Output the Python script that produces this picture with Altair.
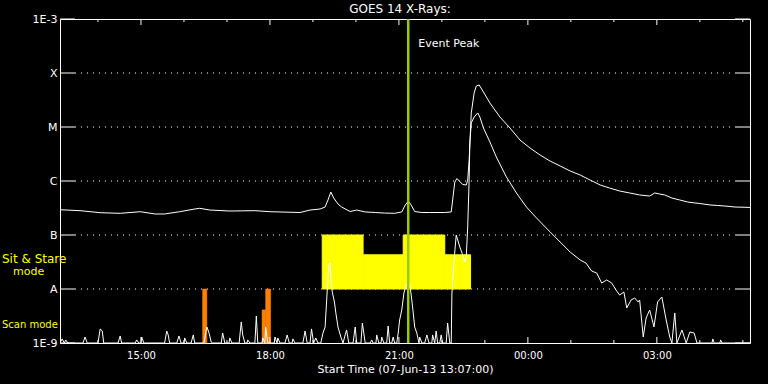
import json
import altair as alt
import pandas as pd

# ---------------- data ----------------
START = "13:07"
END = "05:10"
X_TITLE = "Start Time (07-Jun-13 13:07:00)"
TITLE = "GOES 14 X-Rays:"

# long channel (1-8 A), W/m^2
LONG = [("13:07",2.94e-7),("13:35",2.82e-7),("14:03",2.59e-7),("14:31",2.52e-7),("14:59",2.70e-7),
        ("15:20",2.45e-7),("15:33",2.45e-7),("15:54",2.70e-7),("16:15",3.03e-7),("16:22",3.12e-7),
        ("16:36",2.90e-7),("17:04",2.78e-7),("17:39",2.82e-7),("18:00",2.70e-7),("18:42",2.61e-7),
        ("18:56",2.90e-7),("19:10",3.03e-7),("19:17",3.30e-7),("19:21",4.45e-7),("19:25",6.25e-7),
        ("19:29",4.84e-7),("19:35",3.75e-7),("19:40",3.30e-7),("19:52",2.72e-7),("20:01",2.90e-7),
        ("20:13",2.67e-7),("20:27",2.61e-7),("20:40",2.55e-7),("20:54",2.52e-7),("21:04",2.67e-7),
        ("21:08",3.44e-7),("21:13",4.27e-7),("21:17",3.60e-7),("21:22",2.72e-7),("21:32",2.61e-7),
        ("21:43",2.61e-7),("22:04",2.61e-7),("22:13",2.67e-7),("22:15",4.45e-7),("22:18",9.57e-7),
        ("22:21",1.11e-6),("22:25",9.80e-7),("22:29",8.61e-7),("22:34",8.43e-7),("22:36",1.04e-6),
        ("22:38",2.45e-6),("22:41",1.82e-5),("22:45",4.27e-5),("22:48",5.74e-5),("22:52",6.00e-5),
        ("22:58",4.45e-5),("23:07",2.78e-5),("23:21",1.53e-5),("23:35",9.57e-6),("23:49",5.74e-6),
        ("00:03",4.08e-6),("00:17",3.03e-6),("00:31",2.34e-6),("00:45",1.90e-6),("00:59",1.53e-6),
        ("01:13",1.29e-6),("01:27",1.04e-6),("01:41",8.43e-7),("01:54",7.41e-7),("02:08",6.53e-7),
        ("02:22",6.00e-7),("02:36",5.51e-7),("02:50",5.27e-7),("02:57",6.00e-7),("03:04",5.74e-7),
        ("03:11",5.51e-7),("03:21",4.84e-7),("03:32",4.45e-7),("03:43",4.08e-7),("03:53",3.92e-7),
        ("04:00",3.83e-7),("04:14",3.60e-7),("04:25",3.52e-7),("04:35",3.44e-7),("04:49",3.30e-7),
        ("05:03",3.26e-7),("05:10",3.24e-7)]

# short channel (0.5-4 A), W/m^2
SHORT = [("13:07",1e-9),("13:10",1.19e-9),("13:13",1e-9),("13:15",1.14e-9),("13:18",1e-9),
         ("13:39",1e-9),("13:42",1.29e-9),("13:45",1e-9),("14:00",1e-9),("14:03",1.82e-9),
         ("14:06",1.67e-9),("14:08",1e-9),("14:28",1e-9),("14:31",1.35e-9),("14:33",1e-9),
         ("14:52",1e-9),("14:54",1.14e-9),("14:57",1e-9),("15:00",1e-9),("15:01",1.29e-9),
         ("15:04",1e-9),("15:33",1e-9),("15:36",1.67e-9),("15:38",1.41e-9),("15:40",1e-9),
         ("15:50",1e-9),("15:53",1.35e-9),("15:56",1e-9),("16:00",1e-9),("16:01",1.24e-9),
         ("16:04",1e-9),("16:10",1e-9),("16:13",1.41e-9),("16:15",1e-9),("16:28",1e-9),
         ("16:31",1.74e-9),("16:32",1.98e-9),("16:35",1.53e-9),("16:38",1.04e-9),("16:40",1e-9),
         ("16:52",1e-9),("16:54",1.53e-9),("16:57",1e-9),("17:03",1e-9),("17:04",1.24e-9),
         ("17:07",1e-9),("17:17",1e-9),("17:20",2.45e-9),("17:22",1.41e-9),("17:25",1e-9),
         ("17:28",1e-9),("17:29",1.14e-9),("17:32",1e-9),("17:39",1e-9),("17:41",3.16e-9),
         ("17:43",1e-9),("17:49",1e-9),("17:50",1.24e-9),("17:53",1e-9),("17:54",1.98e-9),
         ("17:57",1e-9),("18:06",1e-9),("18:07",1.29e-9),("18:10",1e-9),("18:11",1.24e-9),
         ("18:14",1e-9),("18:21",1e-9),("18:24",1.41e-9),("18:27",1e-9),("18:31",1e-9),
         ("18:32",1.19e-9),("18:35",1e-9),("18:46",1e-9),("18:49",1.67e-9),("18:52",1e-9),
         ("18:56",1e-9),("18:58",1.82e-9),("19:01",1e-9),("19:04",1.24e-9),("19:07",1e-9),
         ("19:11",1e-9),("19:14",1.53e-9),("19:17",1.98e-9),("19:20",9.57e-9),("19:22",2.78e-8),
         ("19:24",3.03e-8),("19:25",1.67e-8),("19:27",8.79e-9),("19:30",5.74e-9),("19:32",3.60e-9),
         ("19:35",1.98e-9),("19:39",1.29e-9),("19:42",1e-9),("19:45",1.41e-9),("19:47",1.74e-9),
         ("19:50",1e-9),("19:56",1e-9),("19:59",1.98e-9),("20:01",1e-9),("20:07",1e-9),
         ("20:09",2.34e-9),("20:13",1e-9),("20:20",1e-9),("20:22",1.14e-9),("20:24",1e-9),
         ("20:28",1e-9),("20:29",1.41e-9),("20:32",1e-9),("20:35",1e-9),("20:36",1.29e-9),
         ("20:39",1e-9),("20:43",1e-9),("20:45",2.07e-9),("20:47",1e-9),("20:50",1e-9),
         ("20:52",1.29e-9),("20:54",1e-9),("20:57",1e-9),("20:59",1.53e-9),("21:01",2.67e-9),
         ("21:04",4.08e-9),("21:07",8.43e-9),("21:10",1.19e-8),("21:12",1.29e-8),("21:15",1.29e-8),
         ("21:18",6.25e-9),("21:20",3.60e-9),("21:22",1.98e-9),("21:25",1.53e-9),("21:28",1e-9),
         ("21:29",1.29e-9),("21:32",1e-9),("21:36",1e-9),("21:39",1.41e-9),("21:42",1e-9),
         ("21:46",1e-9),("21:47",1.41e-9),("21:50",1e-9),("21:52",1.67e-9),("21:54",1e-9),
         ("21:57",1e-9),("21:59",1.41e-9),("22:01",1e-9),("22:06",1e-9),("22:08",2.34e-9),
         ("22:11",1e-9),("22:13",1e-9),("22:14",8.43e-9),("22:17",3.44e-8),("22:20",1.00e-7),
         ("22:25",6.00e-8),("22:29",4.27e-8),("22:32",3.16e-8),("22:34",3.92e-8),("22:36",1.41e-7),
         ("22:38",1.04e-6),("22:39",5.06e-6),("22:41",1.19e-5),("22:45",1.53e-5),("22:50",1.82e-5),
         ("22:53",1.53e-5),("22:58",9.57e-6),("23:07",5.27e-6),("23:16",2.78e-6),("23:30",1.19e-6),
         ("23:44",6.00e-7),("23:58",3.30e-7),("00:12",2.07e-7),("00:31",1.14e-7),("00:45",7.41e-8),
         ("00:59",4.84e-8),("01:13",3.44e-8),("01:21",3.03e-8),("01:29",2.15e-8),("01:36",1.98e-8),
         ("01:43",1.29e-8),("01:50",1.47e-8),("01:57",1.29e-8),("02:03",9.57e-9),("02:08",7.74e-9),
         ("02:14",8.79e-9),("02:18",4.45e-9),("02:24",6.25e-9),("02:29",6.81e-9),("02:34",5.74e-9),
         ("02:36",6.25e-9),("02:41",1.29e-9),("02:45",2.90e-9),("02:50",4.08e-9),("02:56",1.98e-9),
         ("03:01",5.74e-9),("03:07",7.11e-9),("03:13",2.67e-9),("03:18",1.29e-9),("03:21",1e-9),
         ("03:25",3.60e-9),("03:28",1e-9),("03:35",1.74e-9),("03:41",1e-9),("03:46",1.60e-9),
         ("03:52",1.53e-9),("03:56",1e-9),("04:17",1e-9),("04:18",1.19e-9),("04:20",1e-9),
         ("04:28",1e-9),("04:29",1.14e-9),("04:31",1e-9),("05:10",1e-9)]

# Sit & Stare mode blocks
SIT_START = ["19:13", "20:10", "21:06", "22:04"]
SIT_END = ["20:10", "21:06", "22:04", "22:40"]
SIT_TOP = [1e-7, 4.3e-8, 1e-7, 4.3e-8]
SIT_BOTTOM = 1e-8

# Scan mode blocks
SCAN_START = ["16:26", "17:49", "17:54"]
SCAN_END = ["16:32", "17:54", "18:01"]
SCAN_TOP = [1e-8, 4.1e-9, 1e-8]
SCAN_BOTTOM = 1e-9

EVENT_PEAK = "21:13"

X_LABEL_HOURS = [15, 18, 21, 24, 27]
X_MINOR_HOURS = [14, 16, 17, 19, 20, 22, 23, 25, 26, 28, 29]
Y_TICKS = [1e-9, 1e-8, 1e-7, 1e-6, 1e-5, 1e-4, 1e-3]
Y_TICK_LABELS = ["1E-9", "A", "B", "C", "M", "X", "1E-3"]
GRID_LEVELS = [1e-8, 1e-7, 1e-6, 1e-5, 1e-4]

# ---------------- build ----------------
W, H = 690, 324
FONT = "DejaVu Sans"
YELLOW = "#ffff00"
ORANGE = "#ff8000"
GREEN = "#99cc00"


def to_hours(s):
    h, m = (int(p) for p in s.split(":"))
    t = h + m / 60.0
    return t + 24 if t < 12 else t


long_df = pd.DataFrame({"t": [to_hours(a) for a, _ in LONG], "v": [b for _, b in LONG]})
short_df = pd.DataFrame({"t": [to_hours(a) for a, _ in SHORT], "v": [b for _, b in SHORT]})
sit_df = pd.DataFrame({"t": [to_hours(s) for s in SIT_START], "t2": [to_hours(s) for s in SIT_END],
                       "v": [SIT_BOTTOM] * len(SIT_TOP), "v2": SIT_TOP})
scan_df = pd.DataFrame({"t": [to_hours(s) for s in SCAN_START], "t2": [to_hours(s) for s in SCAN_END],
                        "v": [SCAN_BOTTOM] * len(SCAN_TOP), "v2": SCAN_TOP})
grid_df = pd.DataFrame({"v": GRID_LEVELS})
ytick_df = pd.DataFrame({"v": Y_TICKS})
major_df = pd.DataFrame({"t": X_LABEL_HOURS})
minor_df = pd.DataFrame({"t": X_MINOR_HOURS})
event_df = pd.DataFrame({"t": [to_hours(EVENT_PEAK)], "label": ["Event Peak"]})

x_scale = alt.Scale(domain=[to_hours(START), to_hours(END)], nice=False, zero=False)
y_scale = alt.Scale(type="log", domain=[Y_TICKS[0], Y_TICKS[-1]], nice=False)

x_axis = alt.Axis(values=X_LABEL_HOURS,
                  labelExpr="(datum.value % 24 < 10 ? '0' : '') + (datum.value % 24) + ':00'",
                  ticks=False, domain=False, grid=False, title=X_TITLE,
                  labelColor="white", labelFont=FONT, labelFontSize=10, labelPadding=7,
                  titleColor="white", titleFont=FONT, titleFontSize=11, titleFontWeight="normal",
                  titlePadding=3, labelFlush=False)
y_axis = alt.Axis(values=Y_TICKS,
                  labelExpr=json.dumps(Y_TICK_LABELS).replace('"', "'") + "[round(log(datum.value)/LN10)+9]",
                  ticks=False, domain=False, grid=False, title=None,
                  labelColor="white", labelFont=FONT, labelFontSize=11, labelPadding=3)

X = alt.X("t:Q", scale=x_scale, axis=x_axis)
Y = alt.Y("v:Q", scale=y_scale, axis=y_axis)

sit = alt.Chart(sit_df).mark_rect(color=YELLOW, stroke=YELLOW, strokeWidth=1).encode(
    x=X, x2="t2:Q", y=Y, y2="v2:Q")
scan = alt.Chart(scan_df).mark_rect(color=ORANGE, stroke=ORANGE, strokeWidth=0.5).encode(
    x=X, x2="t2:Q", y=Y, y2="v2:Q")

grid = alt.Chart(grid_df).mark_rule(color="white", strokeWidth=1, strokeDash=[1, 5]).encode(
    y=Y, x=alt.value(15), x2=alt.value(W - 15))
ytick_l = alt.Chart(ytick_df).mark_rule(color="white", strokeWidth=1).encode(
    y=Y, x=alt.value(0), x2=alt.value(15))
ytick_r = alt.Chart(ytick_df).mark_rule(color="white", strokeWidth=1).encode(
    y=Y, x=alt.value(W - 15), x2=alt.value(W))

xt_layers = []
for df, ln in ((major_df, 6), (minor_df, 3)):
    xt_layers.append(alt.Chart(df).mark_rule(color="white", strokeWidth=1).encode(
        x=X, y=alt.value(H), y2=alt.value(H - ln)))
    xt_layers.append(alt.Chart(df).mark_rule(color="white", strokeWidth=1).encode(
        x=X, y=alt.value(0), y2=alt.value(ln)))

long_line = alt.Chart(long_df).mark_line(color="white", strokeWidth=1, clip=True).encode(x=X, y=Y)
short_line = alt.Chart(short_df).mark_line(color="white", strokeWidth=1, clip=True).encode(x=X, y=Y)

event_rule = alt.Chart(event_df).mark_rule(color=GREEN, strokeWidth=2.5).encode(x=X)
event_text = alt.Chart(event_df).mark_text(color="white", font=FONT, fontSize=11, align="left",
                                           baseline="alphabetic", dx=10).encode(
    x=X, y=alt.value(28), text="label:N")


def label(text, color, size, x, y, align="left"):
    return alt.Chart(pd.DataFrame({"label": [text]})).mark_text(
        color=color, font=FONT, fontSize=size, align=align, baseline="alphabetic").encode(
        x=alt.value(x), y=alt.value(y), text="label:N")


title = label(TITLE, "white", 12, W / 2 - 5, -6, align="center")
lab1 = label("Sit & Stare", YELLOW, 12, -58, 244)
lab2 = label("mode", YELLOW, 11, -47, 256)
lab3 = label("Scan mode", YELLOW, 10, -58, 309)

chart = alt.layer(
    grid, ytick_l, ytick_r, sit, scan, *xt_layers, long_line, short_line,
    event_rule, event_text, title, lab1, lab2, lab3
).properties(
    width=W, height=H,
    autosize=alt.AutoSizeParams(type="none"),
    padding={"left": 60, "top": 19, "right": 18, "bottom": 41},
).configure(background="black").configure_view(stroke="white", strokeWidth=1)

chart.save("out.html", embed_options={"renderer": "svg", "actions": False})
